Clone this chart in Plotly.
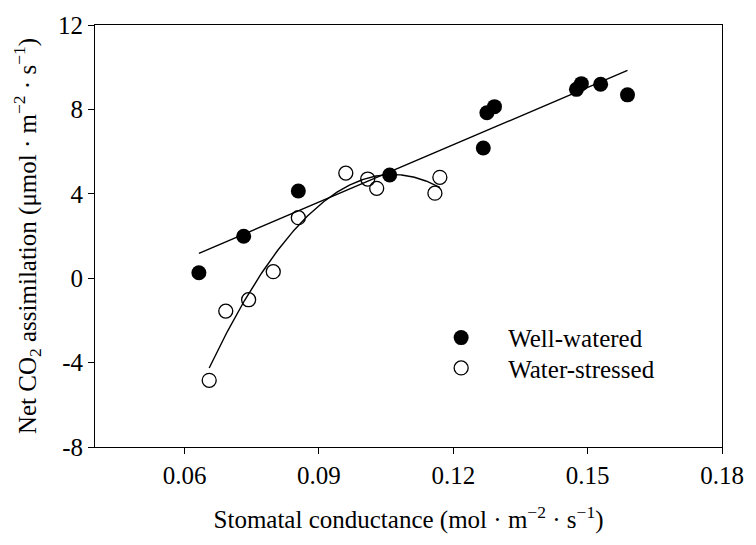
import numpy as np
import plotly.graph_objects as go

# Well-watered (filled circles)
ww_x = [0.0632, 0.0732, 0.0854, 0.1058, 0.1267, 0.1275, 0.1292, 0.1475, 0.1486, 0.1529, 0.1589]
ww_y = [0.26, 1.99, 4.13, 4.89, 6.17, 7.84, 8.13, 8.95, 9.22, 9.19, 8.69]

# Water-stressed (open circles)
ws_x = [0.0655, 0.0692, 0.0743, 0.0798, 0.0854, 0.0960, 0.1009, 0.1029, 0.1159, 0.1170]
ws_y = [-4.84, -1.56, -1.02, 0.31, 2.87, 4.98, 4.70, 4.26, 4.03, 4.78]

x_ticks = [0.06, 0.09, 0.12, 0.15, 0.18]
x_ticklabels = ["0.06", "0.09", "0.12", "0.15", "0.18"]
y_ticks = [-8, -4, 0, 4, 8, 12]
y_ticklabels = ["-8", "-4", "0", "4", "8", "12"]

FONT = "Liberation Serif, Times New Roman, serif"

# regression curves computed from the data
lin = np.polyfit(ww_x, ww_y, 1)
lx = np.linspace(min(ww_x), max(ww_x), 50)
ly = np.polyval(lin, lx)
quad = np.polyfit(ws_x, ws_y, 2)
qx = np.linspace(min(ws_x), max(ws_x), 200)
qy = np.polyval(quad, qx)

fig = go.Figure()
fig.add_trace(go.Scatter(x=lx, y=ly, mode="lines", line=dict(color="black", width=1.4),
                         showlegend=False, hoverinfo="skip"))
fig.add_trace(go.Scatter(x=qx, y=qy, mode="lines", line=dict(color="black", width=1.4),
                         showlegend=False, hoverinfo="skip"))
fig.add_trace(go.Scatter(x=ww_x, y=ww_y, mode="markers", name="Well-watered",
                         legend="legend",
                         marker=dict(symbol="circle", size=15, color="black",
                                     line=dict(width=0))))
fig.add_trace(go.Scatter(x=ws_x, y=ws_y, mode="markers", name="Water-stressed",
                         legend="legend2",
                         marker=dict(symbol="circle-open", size=14, color="black",
                                     line=dict(width=1.3))))

axis_common = dict(showgrid=False, zeroline=False, showline=True, linecolor="black",
                   linewidth=1, mirror=True, ticks="outside", ticklen=6, tickwidth=1,
                   tickcolor="black", tickfont=dict(family=FONT, size=25, color="black"))

fig.update_xaxes(range=[0.04, 0.18], tickvals=x_ticks, ticktext=x_ticklabels,
                 title=dict(text="Stomatal conductance (mol · m<sup>−2</sup> · s<sup>−1</sup>)",
                            font=dict(family=FONT, size=25, color="black"), standoff=22),
                 **axis_common)
fig.update_yaxes(range=[-8, 12], tickvals=y_ticks, ticktext=y_ticklabels,
                 title=dict(text="Net CO<sub>2</sub> assimilation (μmol · m<sup>−2</sup> · s<sup>−1</sup>)",
                            font=dict(family=FONT, size=25, color="black"), standoff=14),
                 **axis_common)

legend_common = dict(xanchor="left", yanchor="top", bgcolor="rgba(0,0,0,0)",
                     borderwidth=0, itemwidth=84,
                     font=dict(family=FONT, size=25, color="black"))

fig.update_layout(
    width=756, height=545,
    margin=dict(l=95, r=24, t=16, b=98),
    paper_bgcolor="white", plot_bgcolor="white",
    font=dict(family=FONT, size=25, color="black"),
    legend=dict(x=0.509, y=0.3132, **legend_common),
    legend2=dict(x=0.509, y=0.2413, **legend_common),
)

fig.write_html("out.html")
